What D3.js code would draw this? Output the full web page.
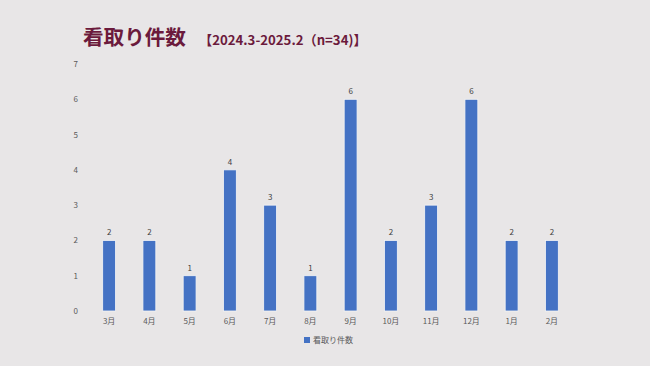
<!DOCTYPE html>
<html><head><meta charset="utf-8">
<script src="https://cdn.jsdelivr.net/npm/d3@7"></script>
<style>body{margin:0;background:#E8E6E7;}svg{display:block;}</style>
</head><body>
<svg id="c" width="650" height="366"></svg>
<script>
const categories = ["3月","4月","5月","6月","7月","8月","9月","10月","11月","12月","1月","2月"];
const values = [2,2,1,4,3,1,6,2,3,6,2,2];
const yTicks = [0,1,2,3,4,5,6,7];
const seriesName = "看取り件数";
const titleText = "看取り件数";
const subtitleText = "【2024.3-2025.2（n=34)】";

const svg = d3.select("#c");
svg.append("rect").attr("width",650).attr("height",366).attr("fill","#E8E6E7");
const font = "'Noto Sans CJK JP','Noto Sans',sans-serif";
const x = d3.scaleBand().domain(categories).range([89,572]).paddingInner(0.68).paddingOuter(0.34);
const y = d3.scaleLinear().domain([0,7]).range([311,64]);

svg.append("text").attr("x",83).attr("y",45).attr("font-family",font).attr("font-weight","bold")
  .attr("font-size",20.6).attr("fill","#6B1A3C").text(titleText);
svg.append("text").attr("x",199).attr("y",45).attr("font-family",font).attr("font-weight","bold")
  .attr("font-size",13.2).attr("fill","#6B1A3C").text(subtitleText);

const yAxis = d3.axisLeft(y).tickValues(yTicks).tickSize(0).tickFormat(d3.format("d"));
const gy = svg.append("g").attr("transform","translate(81,0)").call(yAxis);
gy.select(".domain").remove();
gy.selectAll("text").attr("font-family",font).attr("font-size",8).attr("fill","#595959").attr("dx",0);

const xAxis = d3.axisBottom(x).tickSize(0);
const gx = svg.append("g").attr("transform","translate(0,311)").call(xAxis);
gx.select(".domain").remove();
gx.selectAll("text").attr("font-family",font).attr("font-size",8).attr("fill","#595959").attr("dy","1.2em");

svg.append("g").selectAll("rect").data(values).join("rect")
  .attr("x",(d,i)=>x(categories[i])).attr("width",x.bandwidth())
  .attr("y",d=>y(d)).attr("height",d=>y(0)-y(d))
  .attr("fill","#4472C4").attr("stroke","#F5F5F5").attr("stroke-width",0.8);

svg.append("g").selectAll("text").data(values).join("text")
  .attr("x",(d,i)=>x(categories[i])+x.bandwidth()/2).attr("y",d=>y(d)-5)
  .attr("text-anchor","middle").attr("font-family",font).attr("font-size",8).attr("fill","#404040")
  .text(d=>d);

const lg = svg.append("g").attr("transform","translate(304,337)");
lg.append("rect").attr("width",6).attr("height",6).attr("fill","#4472C4");
lg.append("text").attr("x",9).attr("y",6).attr("font-family",font).attr("font-size",8).attr("fill","#595959").text(seriesName);
</script>
</body></html>
